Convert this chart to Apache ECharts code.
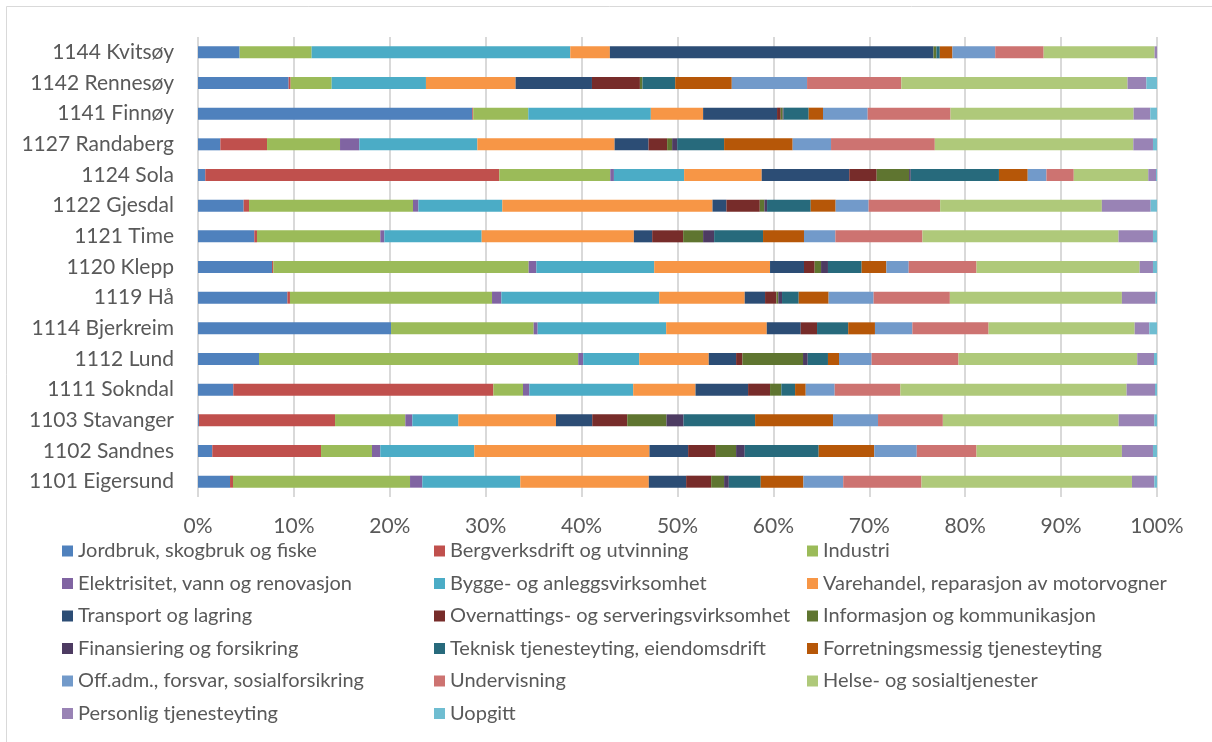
<!DOCTYPE html>
<html>
<head>
<meta charset="utf-8">
<script src="https://cdn.jsdelivr.net/npm/echarts@6/dist/echarts.min.js"></script>
<style>
  html, body { margin: 0; padding: 0; background: #ffffff; }
  #chart { width: 1212px; height: 742px; }
</style>
</head>
<body>
<div id="chart"></div>
<script>
// Municipalities, top to bottom
const municipalities = [
  '1144 Kvitsøy', '1142 Rennesøy', '1141 Finnøy', '1127 Randaberg', '1124 Sola',
  '1122 Gjesdal', '1121 Time', '1120 Klepp', '1119 Hå', '1114 Bjerkreim',
  '1112 Lund', '1111 Sokndal', '1103 Stavanger', '1102 Sandnes', '1101 Eigersund'
];

// Share of employment (%) per industry, one value per municipality in the order above
const jordbruk     = [4.34, 9.45, 28.6, 2.33, 0.76, 4.76, 5.87, 7.72, 9.32, 20.13, 6.36, 3.68, 0.1, 1.49, 3.34];
const bergverk     = [0, 0.21, 0.1, 4.87, 30.66, 0.56, 0.28, 0.14, 0.27, 0, 0, 27.12, 14.19, 11.34, 0.31];
const industri     = [7.51, 4.28, 5.74, 7.61, 11.57, 17.1, 12.86, 26.62, 21.07, 14.87, 33.29, 3.09, 7.33, 5.31, 18.46];
const elektrisitet = [0, 0, 0, 2.01, 0.38, 0.56, 0.42, 0.8, 0.97, 0.42, 0.52, 0.66, 0.73, 0.87, 1.28];
const bygge        = [26.97, 9.83, 12.78, 12.31, 7.32, 8.75, 10.15, 12.29, 16.46, 13.4, 5.84, 10.83, 4.8, 9.8, 10.22];
const varehandel   = [4.13, 9.35, 5.45, 14.31, 8.09, 21.92, 15.87, 12.08, 8.92, 10.49, 7.25, 6.5, 10.18, 18.27, 13.4];
const transport    = [33.74, 7.96, 7.71, 3.54, 9.13, 1.45, 1.91, 3.54, 2.12, 3.54, 2.85, 5.48, 3.78, 4.03, 3.89];
const overnatting  = [0, 5.0, 0.38, 1.94, 2.86, 3.48, 3.23, 1.11, 1.18, 1.7, 0.66, 2.29, 3.65, 2.88, 2.61];
const informasjon  = [0.31, 0.27, 0.21, 0.52, 3.38, 0.48, 2.08, 0.67, 0.2, 0, 6.32, 1.18, 4.09, 2.12, 1.35];
const finansiering = [0, 0, 0.1, 0.53, 0.17, 0.28, 1.15, 0.72, 0.39, 0, 0.49, 0, 1.78, 0.9, 0.49];
const teknisk      = [0.35, 3.41, 2.61, 4.89, 9.2, 4.55, 5.1, 3.51, 1.74, 3.25, 2.11, 1.43, 7.46, 7.71, 3.33];
const forretning   = [1.32, 5.9, 1.49, 7.15, 3.0, 2.6, 4.27, 2.58, 3.12, 2.79, 1.15, 1.11, 8.13, 5.8, 4.45];
const offadm       = [4.46, 7.85, 4.66, 4.0, 1.95, 3.44, 3.27, 2.33, 4.69, 3.9, 3.4, 3.02, 4.69, 4.43, 4.15];
const undervisning = [5.05, 9.83, 8.64, 10.82, 2.85, 7.46, 9.08, 7.07, 7.95, 7.95, 9.06, 6.85, 6.76, 6.23, 8.16];
const helse        = [11.57, 23.59, 19.09, 20.7, 7.77, 16.86, 20.45, 17.01, 17.94, 15.23, 18.64, 23.59, 18.33, 15.16, 21.95];
const personlig    = [0.28, 1.96, 1.74, 2.05, 0.81, 5.09, 3.59, 1.39, 3.49, 1.53, 1.75, 2.96, 3.72, 3.24, 2.33];
const uopgitt      = [0, 1.11, 0.7, 0.42, 0.1, 0.66, 0.42, 0.42, 0.17, 0.8, 0.31, 0.21, 0.28, 0.42, 0.28];

// Tick labels of the percentage axis
const tickValues = [0, 10, 20, 30, 40, 50, 60, 70, 80, 90, 100];

const industries = [
  { name: 'Jordbruk, skogbruk og fiske',            data: jordbruk,     color: '#4F81BD' },
  { name: 'Bergverksdrift og utvinning',            data: bergverk,     color: '#C0504D' },
  { name: 'Industri',                               data: industri,     color: '#9BBB59' },
  { name: 'Elektrisitet, vann og renovasjon',       data: elektrisitet, color: '#8064A2' },
  { name: 'Bygge- og anleggsvirksomhet',            data: bygge,        color: '#4BACC6' },
  { name: 'Varehandel, reparasjon av motorvogner',  data: varehandel,   color: '#F79646' },
  { name: 'Transport og lagring',                   data: transport,    color: '#2C4D75' },
  { name: 'Overnattings- og serveringsvirksomhet',  data: overnatting,  color: '#772C2A' },
  { name: 'Informasjon og kommunikasjon',           data: informasjon,  color: '#5F7530' },
  { name: 'Finansiering og forsikring',             data: finansiering, color: '#4D3B62' },
  { name: 'Teknisk tjenesteyting, eiendomsdrift',   data: teknisk,      color: '#276A7C' },
  { name: 'Forretningsmessig tjenesteyting',        data: forretning,   color: '#B65708' },
  { name: 'Off.adm., forsvar, sosialforsikring',    data: offadm,       color: '#729ACA' },
  { name: 'Undervisning',                           data: undervisning, color: '#CD7371' },
  { name: 'Helse- og sosialtjenester',              data: helse,        color: '#AFC97A' },
  { name: 'Personlig tjenesteyting',                data: personlig,    color: '#9983B5' },
  { name: 'Uopgitt',                                data: uopgitt,      color: '#6FBDD1' }
];

const FONT = 'Lato, "Open Sans", sans-serif';
const TEXT = '#595959';
const GRID = '#D9D9D9';

// Legend laid out in three columns, filled row by row
const legendColumns = [0, 1, 2].map(function (col) {
  return industries.filter(function (_, i) { return i % 3 === col; }).map(function (s) { return s.name; });
});
const legendLefts = [62, 434, 807];

const chart = echarts.init(document.getElementById('chart'), null, { renderer: 'canvas' });

chart.setOption({
  animation: false,
  backgroundColor: '#ffffff',
  textStyle: { fontFamily: FONT },
  graphic: [{
    type: 'rect',
    shape: { x: 6.5, y: 6.5, width: 1400, height: 900 },
    style: { fill: 'none', stroke: GRID, lineWidth: 1 },
    silent: true
  }],
  grid: { left: 198, right: 55, top: 37, bottom: 245, containLabel: false },
  legend: legendColumns.map(function (names, c) {
    return {
      data: names,
      orient: 'vertical',
      left: legendLefts[c],
      top: 541,
      padding: 0,
      itemGap: 12.5,
      itemWidth: 11,
      itemHeight: 11,
      icon: 'rect',
      selectedMode: false,
      textStyle: { color: TEXT, fontSize: 20, fontFamily: FONT, lineHeight: 20 }
    };
  }),
  xAxis: {
    type: 'value',
    min: tickValues[0],
    max: tickValues[tickValues.length - 1],
    interval: tickValues[1] - tickValues[0],
    axisLine: { show: false },
    axisTick: { show: false },
    axisLabel: {
      color: TEXT, fontSize: 21, fontFamily: FONT, margin: 19,
      formatter: function (v) { return v + '%'; }
    },
    splitLine: { show: true, lineStyle: { color: GRID, width: 2 } }
  },
  yAxis: {
    type: 'category',
    data: municipalities,
    inverse: true,
    axisLine: { show: false },
    axisTick: { show: false },
    splitLine: { show: false },
    axisLabel: { color: TEXT, fontSize: 21, fontFamily: FONT, margin: 24 }
  },
  series: industries.map(function (s) {
    return {
      name: s.name,
      type: 'bar',
      stack: 'share',
      data: s.data,
      barWidth: 12,
      itemStyle: { color: s.color },
      emphasis: { disabled: true }
    };
  })
});
</script>
</body>
</html>
